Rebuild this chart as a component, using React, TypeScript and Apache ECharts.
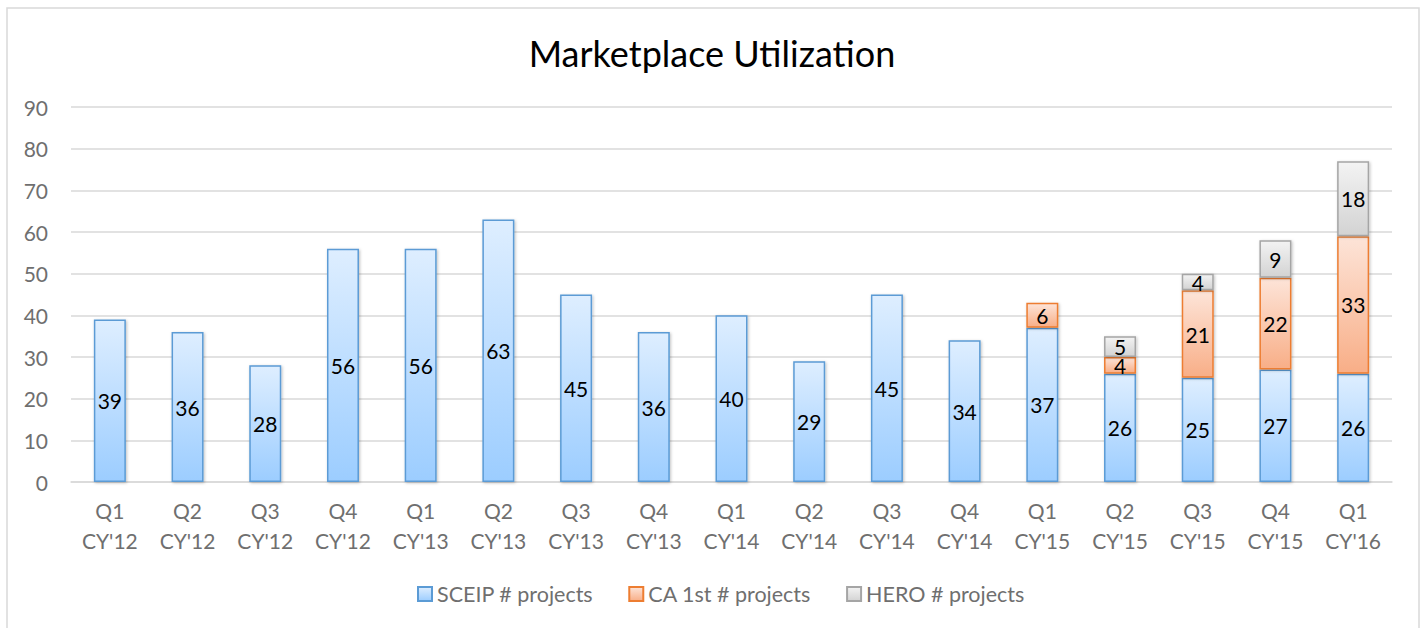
import React, { useEffect, useRef } from "react";
import * as echarts from "echarts";

const categories = [
  "Q1\nCY'12", "Q2\nCY'12", "Q3\nCY'12", "Q4\nCY'12",
  "Q1\nCY'13", "Q2\nCY'13", "Q3\nCY'13", "Q4\nCY'13",
  "Q1\nCY'14", "Q2\nCY'14", "Q3\nCY'14", "Q4\nCY'14",
  "Q1\nCY'15", "Q2\nCY'15", "Q3\nCY'15", "Q4\nCY'15",
  "Q1\nCY'16",
];
const sceip = [39, 36, 28, 56, 56, 63, 45, 36, 40, 29, 45, 34, 37, 26, 25, 27, 26];
const ca1st = [null, null, null, null, null, null, null, null, null, null, null, null, 6, 4, 21, 22, 33];
const hero = [null, null, null, null, null, null, null, null, null, null, null, null, null, 5, 4, 9, 18];
const seriesNames = ["SCEIP # projects", "CA 1st # projects", "HERO # projects"];

const FONT = "Lato, 'Open Sans', sans-serif";
const GRAY_TEXT = "#6f6f6f";

function grad(top: string, bottom: string) {
  return new echarts.graphic.LinearGradient(0, 0, 0, 1, [
    { offset: 0, color: top },
    { offset: 1, color: bottom },
  ]);
}

export default function App() {
  const ref = useRef<HTMLDivElement>(null);
  useEffect(() => {
    if (!ref.current) return;
    const chart = echarts.init(ref.current, undefined, { renderer: "svg" });
    const label = {
      show: true,
      position: "inside" as const,
      color: "#000",
      fontSize: 21,
      lineHeight: 15,
      fontFamily: FONT,
    };
    const shadow = {
      shadowColor: "rgba(0,0,0,0.25)",
      shadowBlur: 3,
      shadowOffsetX: 1,
      shadowOffsetY: 1,
    };
    chart.setOption({
      animation: false,
      backgroundColor: "#fff",
      title: {
        text: "Marketplace Utilization",
        left: "center",
        top: 30,
        textStyle: { fontFamily: FONT, fontSize: 36, fontWeight: "normal", color: "#000" },
      },
      graphic: [
        {
          type: "rect",
          shape: { x: 7, y: 8, width: 1412, height: 640 },
          style: { fill: "none", stroke: "#d9d9d9", lineWidth: 1.5 },
          silent: true,
          z: -1,
        },
      ],
      legend: {
        bottom: 18,
        left: 412,
        itemWidth: 14,
        itemHeight: 14,
        itemGap: 35,
        icon: "rect",
        textStyle: { fontFamily: FONT, fontSize: 21.5, color: GRAY_TEXT },
        data: seriesNames,
      },
      grid: { left: 71, right: 32, top: 107, bottom: 146 },
      xAxis: {
        type: "category",
        data: categories,
        axisLine: { lineStyle: { color: "#d9d9d9", width: 1.5 } },
        axisTick: { show: false },
        axisLabel: {
          fontFamily: FONT,
          fontSize: 21,
          color: GRAY_TEXT,
          lineHeight: 30,
          margin: 13,
        },
      },
      yAxis: {
        type: "value",
        min: 0,
        max: 90,
        interval: 10,
        axisLine: { show: false },
        axisTick: { show: false },
        splitLine: { lineStyle: { color: "#d9d9d9", width: 1.5 } },
        axisLabel: { fontFamily: FONT, fontSize: 21, color: GRAY_TEXT, margin: 23 },
      },
      series: [
        {
          name: seriesNames[0],
          type: "bar",
          stack: "total",
          barWidth: 32,
          data: sceip,
          label,
          itemStyle: {
            color: grad("#deeeff", "#9ccdff"),
            borderColor: "#5b9bd5",
            borderWidth: 1.5,
            ...shadow,
          },
        },
        {
          name: seriesNames[1],
          type: "bar",
          stack: "total",
          barWidth: 32,
          data: ca1st,
          label,
          itemStyle: {
            color: grad("#fde4d8", "#f8ae87"),
            borderColor: "#ed7d31",
            borderWidth: 1.5,
            ...shadow,
          },
        },
        {
          name: seriesNames[2],
          type: "bar",
          stack: "total",
          barWidth: 32,
          data: hero,
          label,
          itemStyle: {
            color: grad("#f3f3f3", "#d3d3d3"),
            borderColor: "#a5a5a5",
            borderWidth: 1.5,
            ...shadow,
          },
        },
      ],
    });
    return () => chart.dispose();
  }, []);
  return (
    <div
      ref={ref}
      style={{ position: "fixed", left: 0, top: 0, width: 1424, height: 628 }}
    />
  );
}
